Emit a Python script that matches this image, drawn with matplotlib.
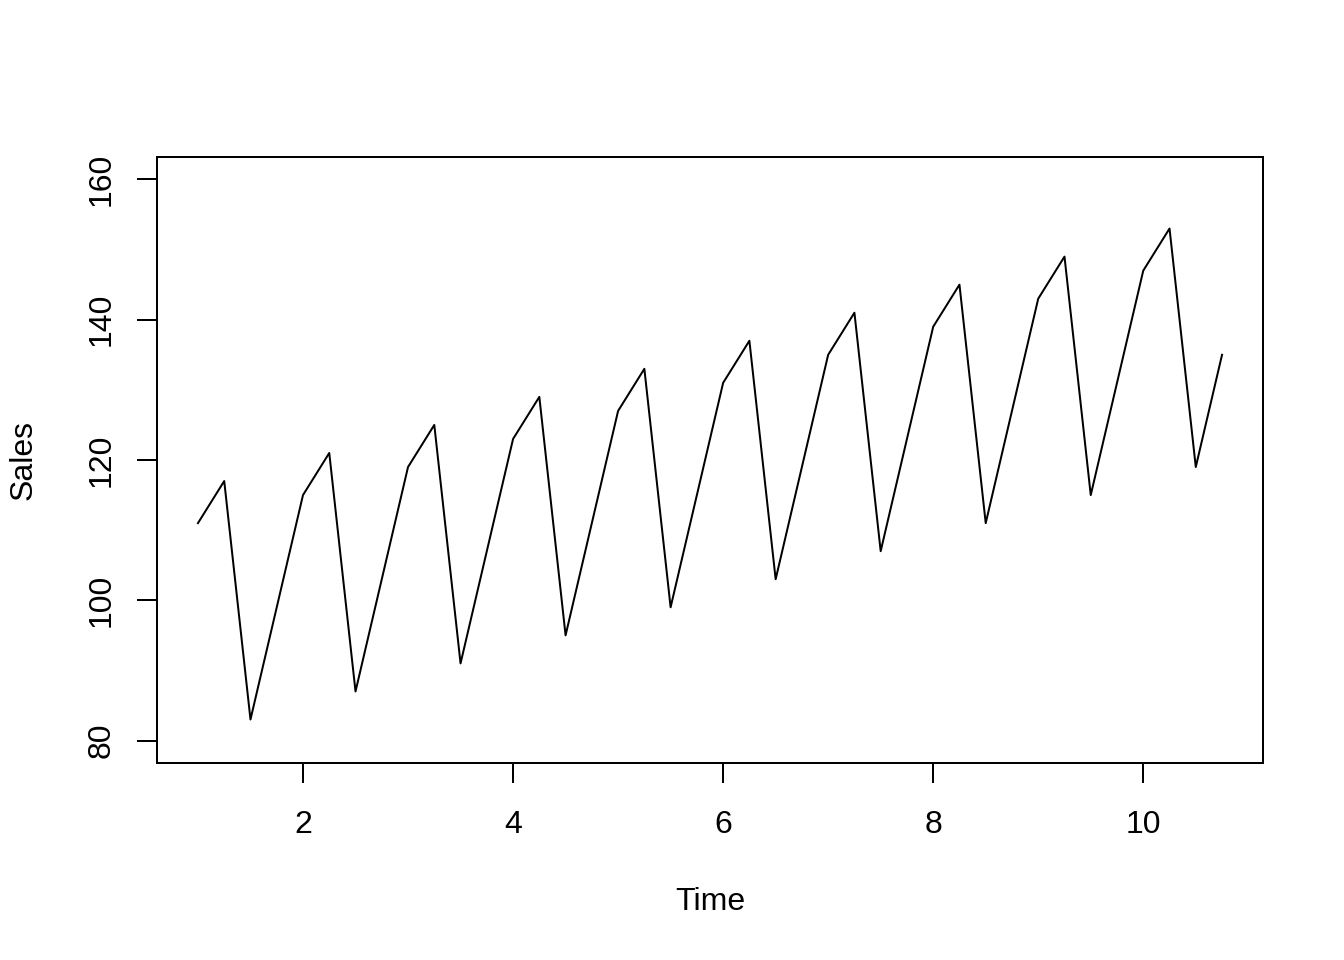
import matplotlib
matplotlib.use('Agg')
import matplotlib.pyplot as plt

plt.rcParams['font.family'] = ['Liberation Sans', 'DejaVu Sans']

# quarterly sales, years 1..10
time = [1 + i * 0.25 for i in range(40)]
sales = [111, 117, 83, 99,
         115, 121, 87, 103,
         119, 125, 91, 107,
         123, 129, 95, 111,
         127, 133, 99, 115,
         131, 137, 103, 119,
         135, 141, 107, 123,
         139, 145, 111, 127,
         143, 149, 115, 131,
         147, 153, 119, 135]
xticks = [2, 4, 6, 8, 10]
yticks = [80, 100, 120, 140, 160]

fig = plt.figure(figsize=(7, 5), dpi=192)
ax = fig.add_axes([157/1344, 1 - 763/960, (1263-157)/1344, (763-157)/960])
ax.plot(time, sales, c='k', lw=0.75)

ax.set_xlim(1 - 0.04*9.75, 10.75 + 0.04*9.75)
ax.set_ylim(80 - 0.04*80, 160 + 0.04*80)
ax.set_xticks(xticks)
ax.set_yticks(yticks)
ax.set_yticklabels([str(v) for v in yticks], rotation=90, va='center')
ax.tick_params(direction='out', length=7.5, width=0.75, labelsize=12)
ax.tick_params(axis='x', pad=10.2)
ax.tick_params(axis='y', pad=7.7)
for s in ax.spines.values():
    s.set_linewidth(0.75)
ax.set_xlabel('Time', fontsize=12, labelpad=17.5)
ax.set_ylabel('Sales', fontsize=12, labelpad=18)

plt.savefig('out.png')
